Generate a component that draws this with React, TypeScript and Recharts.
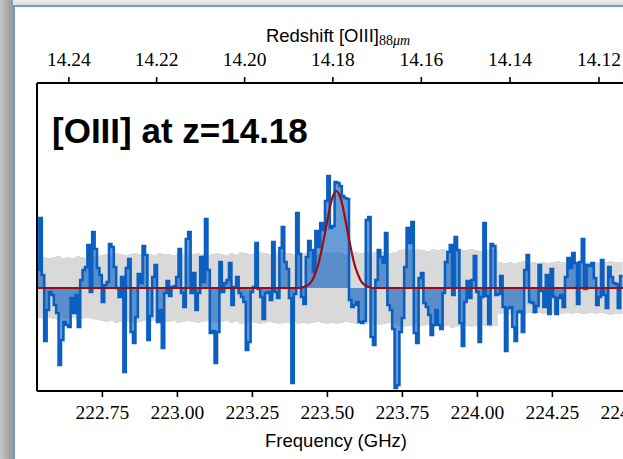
import { ComposedChart, Area, Line, XAxis, YAxis, ReferenceLine } from "recharts";

// [OIII] 88 micron rest frequency (GHz), used to place the redshift axis
const OIII_REST_GHZ = 3393.006244;

// spectral grid: left edge of the first channel and channel width (GHz)
const FREQ_START = 222.532;
const CHANNEL_GHZ = 0.008;
const FREQ_END = 224.532;

// flux density per channel (arbitrary units, continuum subtracted)
const flux1 = [
  0.18, 0.7, 0.13, -0.53, -0.22, -0.04, -0.07, -0.17, -0.25, -0.77,
  -0.52, -0.34, -0.37, -0.39, -0.1, -0.25, -0.07, -0.39, 0.08, 0.18,
  0.21, 0.43, -0.04, 0.56, 0.39, 0.2, 0.13, -0.14, 0.03, 0.06,
  0.44, 0.41, 0.21, 0.0, -0.09, 0.11, -0.84, 0.2, 0.29,
];
const flux2 = [
  -0.44, -0.55, -0.29, 0.14, 0.05, 0.42, 0.33, -0.52, -0.28, 0.11,
  0.23, -0.34, -0.22, -0.6, -0.05, 0.07, -0.08, 0.01, 0.02, 0.11,
  0.39, -0.05, -0.19, 0.49, 0.56, -0.05, 0.15, -0.22, -0.05, 0.31,
  0.06, 0.69, 0.18, -0.45, -0.43, -0.75, -0.44, 0.26, -0.04, 0.05,
  0.08,
];
const flux3 = [
  0.25, -0.17, 0.01, 0.11, -0.05, -0.09, -0.14, -0.62, -0.54, -0.04,
  0.01, 0.45, -0.01, -0.09, -0.31, -0.05, -0.04, -0.12, 0.46, -0.04,
  -0.1, 0.4, 0.61, 0.26, 0.19, -0.1, -0.95, -0.06, 0.75, 0.34,
  -0.09, -0.16, 0.31, 0.47, 0.38, 0.16, 0.57, 0.41, 0.65, 0.58,
  0.87,
];
const flux4 = [
  1.12, 0.6, 0.62, 1.06, 1.05, 1.02, 0.92, 0.9, 0.89, -0.12,
  -0.19, -0.17, -0.14, -0.34, -0.35, -0.33, 0.68, 0.71, -0.49, -0.57,
  0.08, 0.38, 0.31, 0.25, 0.55, -0.17, -0.22, -0.41, -1.0, -0.97,
  -0.44, -0.3, 0.21, 0.6, 0.45, 0.66, -0.45, -0.55, 0.1, 0.15,
];
const flux5 = [
  -0.15, -0.19, -0.27, -0.47, -0.37, -0.22, -0.37, -0.41, -0.05, 0.26,
  0.36, 0.43, -0.07, 0.51, 0.38, -0.35, -0.58, -0.14, 0.07, -0.1,
  0.08, 0.32, -0.04, -0.54, -0.09, 0.65, -0.08, -0.36, 0.44, 0.42,
  -0.07, -0.06, 0.12, -0.19, -0.63, -0.2, -0.19, -0.39, -0.53, -0.24,
  -0.23, -0.44,
];
const flux6 = [
  0.18, 0.33, -0.14, -0.15, -0.24, -0.18, 0.23, -0.03, -0.19, 0.13,
  -0.26, 0.19, -0.09, -0.26, -0.1, -0.07, -0.19, 0.11, 0.3, 0.2,
  0.35, 0.25, -0.16, 0.26, 0.49, -0.01, 0.23, 0.22, 0.25, 0.1,
  -0.17, -0.09, 0.28, -0.07, -0.2, 0.21, 0.11, 0.05, 0.04, -0.2,
  0.12,
];

// 1-sigma noise, one value per pair of channels
const noiseSigma = [
  0.3, 0.31, 0.3, 0.31, 0.32, 0.3, 0.31, 0.3, 0.32, 0.31, 0.3, 0.31, 0.32,
  0.33, 0.34, 0.33, 0.35, 0.34, 0.33, 0.34, 0.35, 0.34, 0.33, 0.34, 0.33, 0.35, 0.34,
  0.34, 0.33, 0.35, 0.34, 0.33, 0.34, 0.35, 0.34, 0.33, 0.34, 0.35, 0.34, 0.33,
  0.35, 0.34, 0.36, 0.35, 0.34, 0.35, 0.36, 0.35, 0.34, 0.35, 0.36, 0.35, 0.35, 0.34,
  0.36, 0.35, 0.36, 0.35, 0.34, 0.35, 0.36, 0.35, 0.36, 0.35, 0.34, 0.35, 0.36, 0.35,
  0.36, 0.35, 0.36, 0.37, 0.36, 0.35, 0.36,
  0.38, 0.39, 0.38, 0.38, 0.39, 0.38, 0.37, 0.39, 0.38, 0.39, 0.38, 0.4, 0.39, 0.38,
  0.38, 0.39, 0.38, 0.37, 0.38, 0.39, 0.38,
  0.26, 0.25, 0.26, 0.25, 0.26, 0.27, 0.25, 0.26, 0.25, 0.26, 0.25, 0.26, 0.27,
  0.26, 0.25, 0.26, 0.25, 0.26, 0.26, 0.25, 0.26, 0.25, 0.26, 0.27, 0.26, 0.26,
];

// Gaussian line fit, sampled
const fitFreq = [
  FREQ_START, 223.41, 223.42, 223.43, 223.44, 223.45, 223.46, 223.47, 223.48,
  223.49, 223.5, 223.51, 223.52, 223.53, 223.54, 223.55, 223.56, 223.57,
  223.58, 223.59, 223.6, 223.61, 223.62, 223.63, 223.64, 223.65, FREQ_END,
];
const fitFlux = [
  0, 0, 0.01, 0.02, 0.04, 0.08, 0.15, 0.24, 0.37,
  0.52, 0.68, 0.83, 0.93, 0.97, 0.93, 0.83, 0.68, 0.52,
  0.37, 0.24, 0.15, 0.08, 0.04, 0.02, 0.01, 0, 0,
];

const freqTicks = [222.75, 223.0, 223.25, 223.5, 223.75, 224.0, 224.25, 224.5];
const redshiftTicks = [14.24, 14.22, 14.2, 14.18, 14.16, 14.14, 14.12];

const spectrum = [...flux1, ...flux2, ...flux3, ...flux4, ...flux5, ...flux6];

const rows = spectrum.map((f, i) => {
  const s = noiseSigma[Math.floor(i / 2)];
  return { freq: FREQ_START + i * CHANNEL_GHZ, flux: f, noise: [-s, s] };
});
// closing edge of the last channel
{
  const s = noiseSigma[noiseSigma.length - 1];
  rows.push({
    freq: FREQ_START + spectrum.length * CHANNEL_GHZ,
    flux: spectrum[spectrum.length - 1],
    noise: [-s, s],
  });
}

const fitRows = fitFreq.map((f, i) => ({ freq: f, fit: fitFlux[i] }));

const zTickFreqs = redshiftTicks.map((z) => OIII_REST_GHZ / (1 + z));

const tickFont = {
  fill: "#000",
  fontSize: 19.5,
  fontFamily: "'Liberation Serif', serif",
};

export default function App() {
  return (
    <div
      style={{
        position: "fixed",
        left: 0,
        top: 0,
        width: 623,
        height: 459,
        overflow: "hidden",
        background: "#fff",
      }}
    >
      <div style={{ position: "absolute", left: 0, top: 0 }}>
        <ComposedChart
          width={660}
          height={459}
          data={rows}
          margin={{ top: 33, right: 23, bottom: 18, left: 37 }}
        >
          <XAxis
            xAxisId="freq"
            dataKey="freq"
            type="number"
            domain={[FREQ_START, FREQ_END]}
            allowDataOverflow
            ticks={freqTicks}
            tickFormatter={(v: number) => v.toFixed(2)}
            height={50}
            tick={tickFont}
            tickSize={6}
            tickMargin={8}
            tickLine={{ stroke: "#000", strokeWidth: 1.6 }}
            axisLine={{ stroke: "#000", strokeWidth: 2 }}
          />
          <XAxis
            xAxisId="z"
            orientation="top"
            dataKey="freq"
            type="number"
            domain={[FREQ_START, FREQ_END]}
            allowDataOverflow
            ticks={zTickFreqs}
            tickFormatter={(v: number) => (OIII_REST_GHZ / v - 1).toFixed(2)}
            height={50}
            tick={tickFont}
            tickSize={6}
            tickMargin={11}
            tickLine={{ stroke: "#000", strokeWidth: 1.6 }}
            axisLine={{ stroke: "#000", strokeWidth: 2 }}
          />
          <YAxis
            type="number"
            domain={[-1.03, 2.05]}
            allowDataOverflow
            width={0}
            tick={false}
            tickLine={false}
            axisLine={{ stroke: "#000", strokeWidth: 2 }}
          />
          <Area
            xAxisId="freq"
            dataKey="noise"
            type="stepAfter"
            fill="#d9d9d9"
            fillOpacity={1}
            stroke="none"
            isAnimationActive={false}
          />
          <Area
            xAxisId="freq"
            dataKey="flux"
            type="stepAfter"
            baseValue={0}
            fill="#0b5fc1"
            fillOpacity={0.62}
            stroke="#0b5fc1"
            strokeWidth={2.6}
            isAnimationActive={false}
          />
          <Line
            xAxisId="freq"
            data={fitRows}
            dataKey="fit"
            type="monotone"
            stroke="#a00c0c"
            strokeWidth={2.2}
            dot={false}
            isAnimationActive={false}
          />
          {/* left spine of the plot box */}
          <ReferenceLine
            xAxisId="freq"
            x={FREQ_START}
            stroke="#000"
            strokeWidth={2}
            ifOverflow="visible"
          />
        </ComposedChart>
      </div>

      <svg
        width={623}
        height={459}
        style={{ position: "absolute", left: 0, top: 0, pointerEvents: "none" }}
      >
        <text
          x={338}
          y={41.7}
          textAnchor="middle"
          fontFamily="'Liberation Sans', sans-serif"
          fontSize={18.5}
          fill="#000"
        >
          Redshift [OIII]
          <tspan fontFamily="'Liberation Serif', serif" fontSize={14} dy={3.5}>
            88
          </tspan>
          <tspan fontFamily="'Liberation Serif', serif" fontSize={14} fontStyle="italic">
            μm
          </tspan>
        </text>
        <text
          x={336}
          y={446.5}
          textAnchor="middle"
          fontFamily="'Liberation Sans', sans-serif"
          fontSize={18.5}
          fill="#000"
        >
          Frequency (GHz)
        </text>
        <text
          x={52}
          y={143}
          fontFamily="'Liberation Sans', sans-serif"
          fontWeight="bold"
          fontSize={35}
          fill="#000"
        >
          [OIII] at z=14.18
        </text>
      </svg>

      {/* window frame: shadow strips and blue border */}
      <div
        style={{
          position: "absolute",
          left: 0,
          top: 0,
          width: 623,
          height: 5,
          background: "linear-gradient(to bottom, #eeeeee, #dcdcdc)",
        }}
      />
      <div
        style={{
          position: "absolute",
          left: 0,
          top: 0,
          width: 13,
          height: 459,
          background: "linear-gradient(to right, #c8c8c8, #a4a4a4 70%, #9a9a9a)",
        }}
      />
      <div
        style={{
          position: "absolute",
          left: 13,
          top: 5,
          width: 610,
          height: 2,
          background: "#6c9be4",
        }}
      />
      <div
        style={{
          position: "absolute",
          left: 13,
          top: 5,
          width: 2,
          height: 454,
          background: "#6c9be4",
        }}
      />
    </div>
  );
}
